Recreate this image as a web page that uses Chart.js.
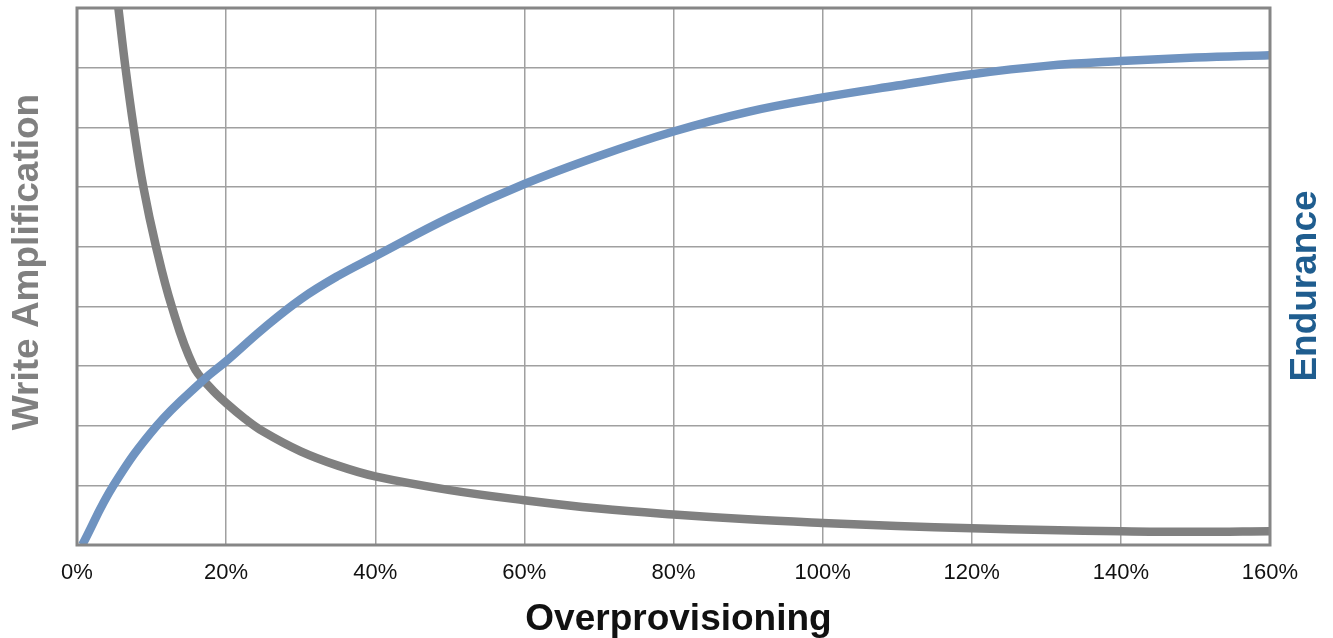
<!DOCTYPE html>
<html>
<head>
<meta charset="utf-8">
<script src="https://cdn.jsdelivr.net/npm/chart.js@4"></script>
<style>
html,body{margin:0;padding:0;background:#fff;}
#wrap{width:1333px;height:638px;position:relative;}
</style>
</head>
<body>
<div id="wrap"><canvas id="c" width="1333" height="638"></canvas></div>
<script>
// Overprovisioning (%) and values (0–9 grid units)
const xTickLabels = ['0%','20%','40%','60%','80%','100%','120%','140%','160%'];

const writeAmpX = [5.55, 6.5, 7.6, 8.9, 10.6, 12.7, 15.6, 18, 20, 22.5, 25, 30, 35, 40, 50, 60, 70, 80, 90, 100, 110, 120, 130, 140, 150, 160];
const writeAmpY = [9.0, 8.0, 7.0, 6.0, 5.0, 4.0, 3.0, 2.62, 2.38, 2.12, 1.9, 1.57, 1.33, 1.15, 0.92, 0.75, 0.61, 0.51, 0.43, 0.37, 0.32, 0.28, 0.25, 0.23, 0.22, 0.23];

const enduranceX = [0.7, 4.9, 10.7, 16.9, 20, 25, 30, 35, 40, 50, 60, 70, 80, 90, 100, 110, 120, 130, 140, 150, 160];
const enduranceY = [0.0, 1.0, 2.0, 2.76, 3.08, 3.63, 4.12, 4.51, 4.84, 5.49, 6.05, 6.52, 6.93, 7.26, 7.50, 7.70, 7.89, 8.03, 8.11, 8.17, 8.21];

const titleX = 'Overprovisioning';
const titleLeft = 'Write Amplification';
const titleRight = 'Endurance';

const FONT = '"Liberation Sans", Arial, Helvetica, sans-serif';

const toPts = (xs, ys) => xs.map((x, i) => ({x: x, y: ys[i]}));

const frameAndTitles = {
  id: 'frameAndTitles',
  afterDatasetsDraw(chart) {
    const ctx = chart.ctx;
    const a = chart.chartArea;
    ctx.save();
    ctx.strokeStyle = '#868686';
    ctx.lineWidth = 3;
    ctx.strokeRect(a.left, a.top, a.right - a.left, a.bottom - a.top);
    ctx.restore();
  },
  afterDraw(chart) {
    const ctx = chart.ctx;
    const a = chart.chartArea;
    ctx.save();
    ctx.font = 'bold 37px ' + FONT;
    ctx.textAlign = 'center';
    ctx.textBaseline = 'middle';
    ctx.fillStyle = '#111111';
    ctx.fillText(titleX, (a.left + a.right) / 2 + 5, 620);
    ctx.save();
    ctx.translate(28, 262);
    ctx.rotate(-Math.PI / 2);
    ctx.fillStyle = '#808080';
    ctx.fillText(titleLeft, 0, 0);
    ctx.restore();
    ctx.save();
    ctx.translate(1306, 286);
    ctx.rotate(-Math.PI / 2);
    ctx.fillStyle = '#1f5d8f';
    ctx.fillText(titleRight, 0, 0);
    ctx.restore();
    ctx.restore();
  }
};

new Chart(document.getElementById('c'), {
  type: 'line',
  data: {
    datasets: [
      {
        label: titleRight,
        data: toPts(enduranceX, enduranceY),
        borderColor: '#6f93c0',
        borderWidth: 8.5,
        pointRadius: 0,
        tension: 0.4,
        fill: false,
        yAxisID: 'y2',
        clip: 0
      },
      {
        label: titleLeft,
        data: toPts(writeAmpX, writeAmpY),
        borderColor: '#808080',
        borderWidth: 8.5,
        pointRadius: 0,
        tension: 0.4,
        fill: false,
        yAxisID: 'y',
        clip: 0
      }
    ]
  },
  options: {
    responsive: false,
    animation: false,
    devicePixelRatio: 1,
    layout: { padding: { top: 8, left: 0, right: 0, bottom: 0 } },
    plugins: { legend: { display: false }, tooltip: { enabled: false } },
    scales: {
      x: {
        type: 'linear',
        min: 0, max: 160,
        afterFit: s => { s.height = 93; },
        ticks: {
          stepSize: 20,
          padding: 15,
          color: '#111111',
          font: { family: FONT, size: 22 },
          callback: (v, i) => xTickLabels[i]
        },
        grid: { color: '#a0a0a0', lineWidth: 1.5, drawTicks: false },
        border: { display: false }
      },
      y: {
        position: 'left',
        min: 0, max: 9,
        afterFit: s => { s.width = 77; },
        ticks: { display: false, stepSize: 1 },
        grid: { color: '#a0a0a0', lineWidth: 1.5, drawTicks: false },
        border: { display: false }
      },
      y2: {
        position: 'right',
        min: 0, max: 9,
        afterFit: s => { s.width = 63; },
        ticks: { display: false, stepSize: 1 },
        grid: { display: false, drawTicks: false },
        border: { display: false }
      }
    }
  },
  plugins: [frameAndTitles]
});
</script>
</body>
</html>
